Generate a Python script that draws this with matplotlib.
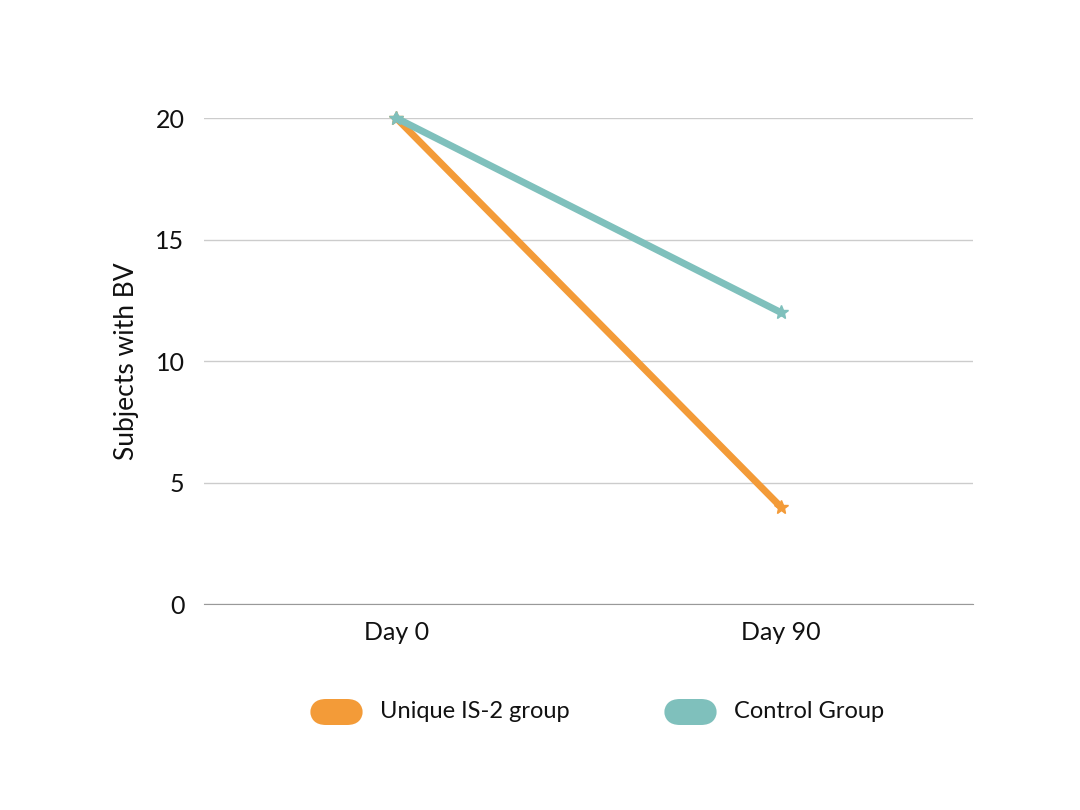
import matplotlib.pyplot as plt
from matplotlib.patches import FancyBboxPatch

days = ['Day 0', 'Day 90']
unique_is2 = [20, 4]
control = [20, 12]
series_names = ['Unique IS-2 group', 'Control Group']
colors = ['#F39B38', '#7FC0BC']

plt.rcParams['font.family'] = ['Lato', 'DejaVu Sans']

fig = plt.figure(figsize=(10.8, 8.1), dpi=100)
ax = fig.add_axes([0.1889, 0.2543, 0.712, 0.60])

x = list(range(len(days)))
ax.plot(x, unique_is2, color=colors[0], lw=5, marker='*', ms=10, clip_on=False, zorder=3)
ax.plot(x, control, color=colors[1], lw=5, marker='*', ms=10, clip_on=False, zorder=4)

ax.set_xlim(-0.5, 1.5)
ax.set_ylim(0, 20)
ax.set_yticks([0, 5, 10, 15, 20])
ax.set_xticks(x)
ax.set_xticklabels(days)
ax.tick_params(length=0, labelsize=18, labelcolor='#111111', pad=14)
ax.tick_params(axis='x', pad=12)
ax.grid(axis='y', color='#cccccc', lw=1)
ax.set_axisbelow(True)
for s in ['top', 'right', 'left']:
    ax.spines[s].set_visible(False)
ax.spines['bottom'].set_color('#999999')
ax.set_ylabel('Subjects with BV', fontsize=19, color='#111111', labelpad=12)

# legend drawn by hand, rounded swatches
lx = [310, 664]
for i, name in enumerate(series_names):
    p = FancyBboxPatch((lx[i] / 1080, 1 - 725 / 810), 53 / 1080, 26 / 810,
                       boxstyle='round,pad=0,rounding_size=0.0148',
                       transform=fig.transFigure, facecolor=colors[i], edgecolor='none',
                       mutation_aspect=1080 / 810)
    fig.patches.append(p)
    fig.text((lx[i] + 70) / 1080, 1 - 712 / 810, name, fontsize=17, color='#111111', va='center')

fig.savefig('out.png', dpi=100)
